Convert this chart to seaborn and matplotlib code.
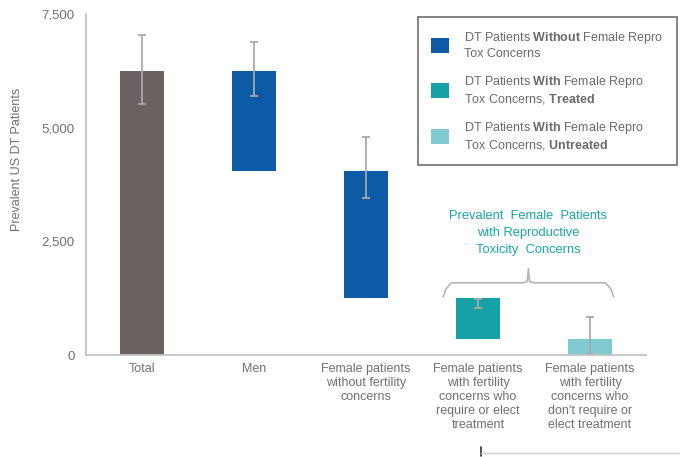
import numpy as np
import pandas as pd
import matplotlib
matplotlib.use("Agg")
import matplotlib.pyplot as plt
import matplotlib.patches as mpatches
import seaborn as sns

# waterfall data
categories = ["Total", "Men", "Female without", "Female treated", "Female untreated"]
tick_labels = [
    "Total",
    "Men",
    "Female patients\nwithout fertility\nconcerns",
    "Female patients\nwith fertility\nconcerns who\nrequire or elect\ntreatment",
    "Female patients\nwith fertility\nconcerns who\ndon't require or\nelect treatment",
]
bar_top = [6250, 6250, 4060, 1260, 350]
bar_bottom = [0, 4060, 1260, 350, 0]
err_low = [5520, 5700, 3450, 1040, 30]
err_high = [7040, 6880, 4800, 1240, 840]
bar_colors = ["#6b6160", "#0d5ba6", "#0d5ba6", "#16a1a6", "#80cbd2"]

legend_labels = [
    "DT Patients $\\bf{Without}$ Female Repro\nTox Concerns",
    "DT Patients $\\bf{With}$ Female Repro\nTox Concerns, $\\bf{Treated}$",
    "DT Patients $\\bf{With}$ Female Repro\nTox Concerns, $\\bf{Untreated}$",
]
legend_colors = ["#0d5ba6", "#16a1a6", "#80cbd2"]

sns.set_theme(style="white")
plt.rcParams["font.family"] = ["Liberation Sans", "DejaVu Sans"]
plt.rcParams["mathtext.fontset"] = "custom"
plt.rcParams["mathtext.rm"] = "Liberation Sans"
plt.rcParams["mathtext.bf"] = "Liberation Sans:bold"

df = pd.DataFrame({
    "cat": categories,
    "height": np.array(bar_top) - np.array(bar_bottom),
    "bottom": bar_bottom,
})

fig = plt.figure(figsize=(6.8, 4.57), dpi=100)
ax = fig.add_axes([0.1265, 0.223, 0.8235, 0.746])

sns.barplot(data=df, x="cat", y="height", bottom=df["bottom"].values,
            color=bar_colors[0], width=0.4, ax=ax, linewidth=0)
for patch, c in zip(ax.patches, bar_colors):
    patch.set_facecolor(c)

mid = (np.array(err_low) + np.array(err_high)) / 2
yerr = [mid - np.array(err_low), np.array(err_high) - mid]
ax.errorbar(np.arange(len(categories)), mid, yerr=yerr, fmt="none",
            ecolor="#a9a9a9", elinewidth=1.3, capsize=3, capthick=1.3)

ax.set_xlim(-0.5, 4.5)
ax.set_ylim(0, 7500)
ax.set_yticks([0, 2500, 5000, 7500])
ax.set_yticklabels(["0", "2,500", "5,000", "7,500"])
ax.set_xticks(range(len(categories)))
ax.set_xticklabels(tick_labels, linespacing=1.2)
ax.tick_params(axis="both", length=0, labelsize=9, colors="#707070")
ax.tick_params(axis="x", pad=6)
ax.tick_params(axis="y", labelsize=9.5, pad=8)
ax.set_xlabel("")
ax.set_ylabel("Prevalent US DT Patients", fontsize=9, color="#707070")
ax.yaxis.set_label_coords(-0.113, 0.575)

sns.despine(ax=ax)
for s in ["left", "bottom"]:
    ax.spines[s].set_color("#c4c4c4")
    ax.spines[s].set_linewidth(1.3)

# bracket and annotation for female patients with concerns
bx = [2.69, 2.71, 2.76, 3.40, 3.44, 3.45, 3.46, 3.50, 4.14, 4.19, 4.21]
by = [1280, 1440, 1590, 1590, 1620, 1900, 1620, 1590, 1590, 1440, 1280]
ax.plot(bx, by, color="#b5b5b5", lw=1.2)
ax.text(3.45, 2690, "Prevalent  Female  Patients\nwith Reproductive\nToxicity  Concerns",
        ha="center", va="center", fontsize=9.3, color="#1ba5aa", linespacing=1.55)

handles = [mpatches.Patch(facecolor=c, edgecolor="none") for c in legend_colors]
leg = fig.legend(handles, legend_labels, loc="upper left",
                 bbox_to_anchor=(0.615, 0.962), fontsize=9, frameon=True,
                 fancybox=False, handlelength=1.45, handleheight=1.45,
                 handletextpad=1.2, labelspacing=1.1, borderpad=1.05,
                 borderaxespad=0, labelcolor="#6a6a6a")
leg.get_frame().set_edgecolor("#4a4a4a")
leg.get_frame().set_linewidth(1.2)

# small frame corner visible at the bottom edge
fig.add_artist(plt.Line2D([481 / 680, 481 / 680], [0.002, 10 / 457], color="#333333", lw=1.2))
fig.add_artist(plt.Line2D([481 / 680, 1.0], [4 / 457, 4 / 457], color="#d0d0d0", lw=1.0))

fig.savefig("out.png", dpi=100)
